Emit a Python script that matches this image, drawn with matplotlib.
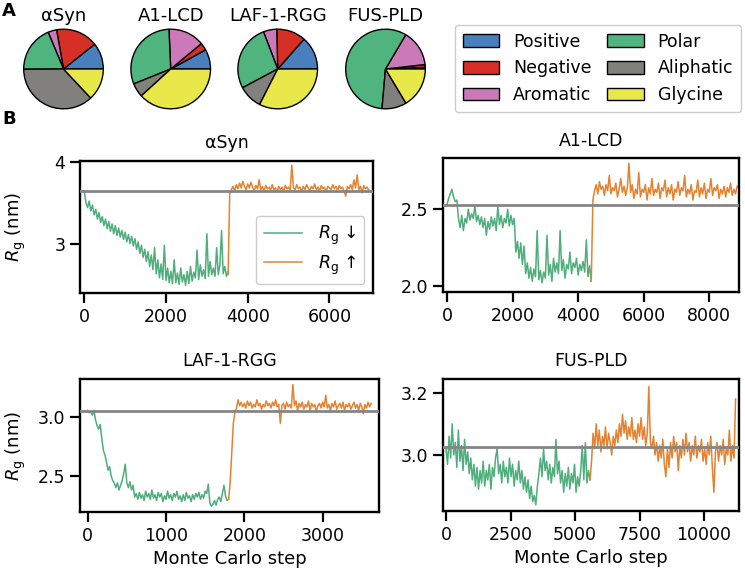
import numpy as np
import matplotlib
matplotlib.use("Agg")
from matplotlib import pyplot as plt
from matplotlib.patches import Patch

# residue composition (fractions) per protein
pie_names = ["αSyn", "A1-LCD", "LAF-1-RGG", "FUS-PLD"]
classes = ["Positive", "Negative", "Aromatic", "Polar", "Aliphatic", "Glycine"]
frac_asyn = [0.107, 0.171, 0.035, 0.188, 0.369, 0.130]
frac_a1 = [0.080, 0.030, 0.147, 0.304, 0.057, 0.382]
frac_laf = [0.135, 0.119, 0.054, 0.270, 0.097, 0.325]
frac_fus = [0.006, 0.012, 0.147, 0.571, 0.100, 0.164]

pie_colors = ["#4a7fbd", "#d62f26", "#cc79b9", "#50b47f", "#82807d", "#e8e84a"]
green = "#4fae7b"
orange = "#e4822f"

# Rg traces (values at equally spaced MC steps)
asyn_down = [3.64, 3.50, 3.44, 3.52, 3.40, 3.47, 3.35, 3.42, 3.30, 3.38, 3.26, 3.33, 3.22, 3.30,
             3.18, 3.27, 3.15, 3.24, 3.12, 3.22, 3.10, 3.19, 3.08, 3.16, 3.05, 3.14, 3.02, 3.11,
             3.00, 3.09, 2.97, 3.06, 2.93, 3.02, 2.88, 2.98, 2.83, 2.93, 2.78, 2.90, 2.72, 2.86,
             2.68, 2.95, 2.63, 2.80, 2.58, 2.75, 2.56, 2.98, 2.55, 2.70, 2.52, 2.66, 2.51, 2.80,
             2.52, 2.64, 2.50, 2.70, 2.53, 2.62, 2.49, 2.66, 2.51, 2.72, 2.54, 2.65, 2.58, 2.92,
             2.56, 2.74, 2.60, 2.68, 2.57, 3.12, 2.60, 2.78, 2.62, 2.70, 2.60, 2.95, 2.62, 2.74,
             3.16, 2.63, 2.72, 2.60, 2.66]
asyn_up = [2.62, 3.62, 3.66, 3.70, 3.64, 3.72, 3.67, 3.74, 3.68, 3.76, 3.70, 3.66, 3.73, 3.68,
           3.75, 3.69, 3.65, 3.71, 3.67, 3.78, 3.66, 3.70, 3.64, 3.71, 3.67, 3.69, 3.65, 3.72,
           3.66, 3.68, 3.63, 3.70, 3.66, 3.69, 3.64, 3.71, 3.67, 3.69, 3.65, 3.96, 3.68, 3.66,
           3.72, 3.67, 3.69, 3.64, 3.70, 3.66, 3.72, 3.68, 3.65, 3.70, 3.67, 3.73, 3.66, 3.69,
           3.64, 3.71, 3.67, 3.69, 3.63, 3.70, 3.68, 3.66, 3.72, 3.67, 3.70, 3.65, 3.71, 3.67,
           3.69, 3.64, 3.58, 3.70, 3.67, 3.72, 3.66, 3.78, 3.68, 3.84, 3.66, 3.70, 3.62, 3.71,
           3.67, 3.69, 3.66]
a1_down = [2.53, 2.57, 2.60, 2.63, 2.58, 2.55, 2.56, 2.44, 2.38, 2.46, 2.36, 2.44, 2.41, 2.50,
           2.43, 2.47, 2.44, 2.52, 2.42, 2.46, 2.40, 2.45, 2.38, 2.44, 2.33, 2.42, 2.37, 2.45,
           2.39, 2.44, 2.36, 2.52, 2.40, 2.46, 2.38, 2.44, 2.41, 2.50, 2.39, 2.46, 2.40, 2.44,
           2.22, 2.29, 2.18, 2.28, 2.14, 2.26, 2.08, 2.15, 2.05, 2.12, 2.03, 2.11, 2.06, 2.36,
           2.04, 2.10, 2.02, 2.09, 2.05, 2.33, 2.07, 2.14, 2.03, 2.18, 2.09, 2.15, 2.08, 2.36,
           2.10, 2.17, 2.05, 2.14, 2.11, 2.22, 2.08, 2.15, 2.12, 2.18, 2.07, 2.14, 2.10, 2.16,
           2.09, 2.30, 2.06, 2.13, 2.03]
a1_up = [2.03, 2.56, 2.62, 2.66, 2.60, 2.68, 2.63, 2.65, 2.59, 2.66, 2.62, 2.72, 2.60, 2.64,
         2.62, 2.67, 2.58, 2.63, 2.70, 2.61, 2.65, 2.59, 2.64, 2.80, 2.61, 2.66, 2.57, 2.63,
         2.60, 2.74, 2.58, 2.63, 2.61, 2.66, 2.56, 2.64, 2.60, 2.70, 2.59, 2.63, 2.61, 2.67,
         2.57, 2.64, 2.62, 2.69, 2.58, 2.64, 2.60, 2.66, 2.56, 2.63, 2.61, 2.68, 2.59, 2.64,
         2.62, 2.72, 2.58, 2.63, 2.60, 2.66, 2.56, 2.62, 2.61, 2.69, 2.58, 2.64, 2.60, 2.67,
         2.57, 2.63, 2.61, 2.70, 2.59, 2.64, 2.62, 2.66, 2.57, 2.63, 2.60, 2.65, 2.58, 2.64,
         2.61, 2.67, 2.59, 2.63, 2.60, 2.65]
laf_down = [3.06, 3.04, 3.05, 3.02, 3.06, 2.98, 2.93, 2.90, 2.94, 2.82, 2.72, 2.68, 2.62, 2.55,
            2.58, 2.50, 2.46, 2.44, 2.40, 2.44, 2.38, 2.42, 2.46, 2.52, 2.60, 2.44, 2.40, 2.45,
            2.38, 2.42, 2.32, 2.35, 2.30, 2.36, 2.31, 2.34, 2.29, 2.37, 2.32, 2.35, 2.30, 2.38,
            2.31, 2.34, 2.29, 2.36, 2.32, 2.35, 2.28, 2.33, 2.30, 2.37, 2.31, 2.34, 2.29, 2.35,
            2.32, 2.37, 2.30, 2.33, 2.28, 2.34, 2.29, 2.36, 2.31, 2.33, 2.28, 2.34, 2.30, 2.35,
            2.32, 2.36, 2.30, 2.34, 2.31, 2.37, 2.35, 2.43, 2.27, 2.24, 2.26, 2.29, 2.25, 2.30,
            2.32, 2.28, 2.35, 2.42, 2.33, 2.29, 2.30]
laf_up = [2.30, 2.45, 2.70, 2.95, 3.05, 3.08, 3.15, 3.10, 3.13, 3.09, 3.12, 3.08, 3.14, 3.10,
          3.13, 3.08, 3.11, 3.09, 3.15, 3.10, 3.12, 3.07, 3.11, 3.09, 3.14, 3.10, 3.12, 3.08,
          3.13, 3.10, 3.15, 3.09, 3.11, 2.95, 3.10, 3.12, 3.07, 3.13, 3.09, 3.11, 3.08, 3.28,
          3.10, 3.14, 3.06, 3.12, 3.09, 3.13, 3.07, 3.11, 3.09, 3.14, 3.06, 3.12, 3.09, 3.11,
          3.05, 3.10, 3.12, 3.08, 3.13, 3.09, 3.19, 3.08, 3.11, 3.06, 3.12, 3.09, 3.14, 3.07,
          3.10, 3.12, 3.08, 3.13, 3.06, 3.11, 3.09, 3.12, 3.07, 3.10, 3.13, 3.08, 3.11, 3.06,
          3.12, 3.09, 3.03, 3.11, 3.08, 3.13, 3.09, 3.12]
fus_down = [3.02, 2.97, 3.06, 2.99, 3.10, 3.00, 3.04, 2.96, 3.08, 2.98, 3.03, 2.95, 3.05, 2.97,
            3.01, 2.94, 2.99, 2.92, 2.97, 2.90, 2.96, 2.89, 2.95, 2.91, 2.98, 2.90, 2.95, 2.92,
            2.97, 2.89, 2.96, 2.93, 2.99, 3.02, 2.94, 2.97, 2.91, 2.98, 2.93, 2.96, 2.91, 2.99,
            2.93, 2.97, 2.90, 2.95, 2.92, 2.98, 2.91, 2.95, 2.89, 2.93, 2.88, 2.92, 2.86, 2.90,
            2.85, 2.87, 2.84, 2.90, 2.94, 2.99, 2.93, 3.02, 2.95, 2.98, 2.92, 2.97, 2.91, 2.96,
            2.93, 3.05, 2.94, 2.98, 2.91, 2.95, 2.88, 2.94, 2.90, 2.96, 2.89, 2.94, 2.91, 2.97,
            2.88, 2.93, 2.90, 2.95, 3.03, 2.92, 3.04, 2.91, 2.95, 2.92]
fus_up = [2.92, 2.98, 3.07, 3.02, 3.10, 3.03, 3.08, 3.01, 3.06, 3.03, 3.09, 3.02, 3.07, 3.04,
          3.00, 3.06, 3.03, 3.08, 3.04, 3.10, 3.06, 3.13, 3.07, 3.11, 3.05, 3.09, 3.06, 3.12,
          3.05, 3.08, 3.04, 3.10, 3.06, 3.12, 3.05, 3.09, 3.03, 3.07, 3.22, 3.04, 3.02, 3.06,
          3.00, 3.04, 2.98, 3.03, 2.99, 3.05, 2.97, 2.93, 3.02, 2.96, 3.04, 2.99, 3.06, 3.01,
          3.04, 2.95, 3.03, 2.99, 3.05, 3.00, 3.07, 3.01, 3.04, 2.98, 3.03, 3.00, 3.06, 2.99,
          3.03, 3.01, 3.05, 2.98, 3.02, 2.97, 3.04, 3.00, 3.06, 2.96, 2.88, 3.01, 3.04, 2.98,
          3.03, 3.00, 3.05, 2.97, 3.02, 3.00, 3.08, 2.98, 3.03, 2.99, 3.18]

panels = [
    dict(title="αSyn", down=asyn_down, up=asyn_up, step=40, ref=3.645,
         xlim=(-105, 7067), ylim=(2.395, 4.01), xt=[0, 2000, 4000, 6000], yt=[3, 4],
         box=(80, 373, 161, 293)),
    dict(title="A1-LCD", down=a1_down, up=a1_up, step=50, ref=2.528,
         xlim=(-122, 8907), ylim=(1.96, 2.834), xt=[0, 2000, 4000, 6000, 8000], yt=[2.0, 2.5],
         box=(443, 739, 158, 292)),
    dict(title="LAF-1-RGG", down=laf_down, up=laf_up, step=20, ref=3.051,
         xlim=(-98, 3720), ylim=(2.192, 3.328), xt=[0, 1000, 2000, 3000], yt=[2.5, 3.0],
         box=(80, 379, 379, 512)),
    dict(title="FUS-PLD", down=fus_down, up=fus_up, step=60, ref=3.026,
         xlim=(-116, 11353), ylim=(2.82, 3.244), xt=[0, 2500, 5000, 7500, 10000], yt=[3.0, 3.2],
         box=(443, 739, 379, 511)),
]

plt.rcParams["font.family"] = ["DejaVu Sans"]
plt.rcParams["font.size"] = 12.5

W, H = 745, 579
fig = plt.figure(figsize=(W / 100, H / 100), dpi=100)


def px_axes(left, right, top, bottom):
    return fig.add_axes([left / W, 1 - bottom / H, (right - left) / W, (bottom - top) / H])


# A: pies
pie_fracs = [frac_asyn, frac_a1, frac_laf, frac_fus]
pie_cx = [63.5, 170.7, 277.7, 385.5]
for name, fr, cx in zip(pie_names, pie_fracs, pie_cx):
    r = 40
    ax = px_axes(cx - r - 1, cx + r + 1, 69 - r - 1, 69 + r + 1)
    ax.pie(fr, colors=pie_colors, startangle=0, counterclock=True,
           wedgeprops=dict(edgecolor="black", linewidth=1.0))
    ax.set_xlim(-1.03, 1.03)
    ax.set_ylim(-1.03, 1.03)
    ax.set_aspect("equal")
    ax.set_title(name, fontsize=13, pad=5)

handles = [Patch(facecolor=c, edgecolor="black", linewidth=1.0, label=l)
           for c, l in zip(pie_colors, classes)]
fig.legend(handles=handles, ncol=2, loc="upper right", bbox_to_anchor=(741 / W, 1 - 25 / H),
           borderaxespad=0, fontsize=12.5, handlelength=2.1, handleheight=0.75,
           columnspacing=0.9, handletextpad=0.8, labelspacing=0.5, borderpad=0.45,
           framealpha=1, edgecolor="#cccccc")

fig.text(2 / W, 1 - 11 / H, "A", fontsize=13, fontweight="bold", va="center")
fig.text(2 / W, 1 - 119 / H, "B", fontsize=13, fontweight="bold", va="center")

# B: Rg traces
for i, p in enumerate(panels):
    ax = px_axes(*p["box"])
    n_down = len(p["down"])
    x_down = np.arange(n_down) * p["step"]
    x_up = (n_down - 1 + np.arange(len(p["up"]))) * p["step"]
    ax.plot(x_down, p["down"], color=green, lw=1.1, label=r"$R_\mathrm{g}$ ↓")
    ax.plot(x_up, p["up"], color=orange, lw=1.1, label=r"$R_\mathrm{g}$ ↑")
    ax.axhline(p["ref"], color="#858585", lw=2, zorder=3)
    ax.set_xlim(*p["xlim"])
    ax.set_ylim(*p["ylim"])
    ax.set_xticks(p["xt"])
    ax.set_yticks(p["yt"])
    ax.set_title(p["title"], fontsize=12.5, pad=9)
    for s in ax.spines.values():
        s.set_linewidth(1.7)
    ax.tick_params(width=1.6, length=7, labelsize=12.5)
    if i % 2 == 0:
        ax.set_ylabel(r"$R_\mathrm{g}$ (nm)", fontsize=13)
        ax.yaxis.set_label_coords(-52 / (p["box"][1] - p["box"][0]), 0.5)
    if i >= 2:
        ax.set_xlabel("Monte Carlo step", fontsize=13)
    if i == 0:
        ax.legend(loc="lower right", fontsize=12.5, handlelength=2.2, borderpad=0.45,
                  labelspacing=0.35, handletextpad=0.9, framealpha=1, edgecolor="#cccccc")

fig.savefig("out.png", dpi=100)
